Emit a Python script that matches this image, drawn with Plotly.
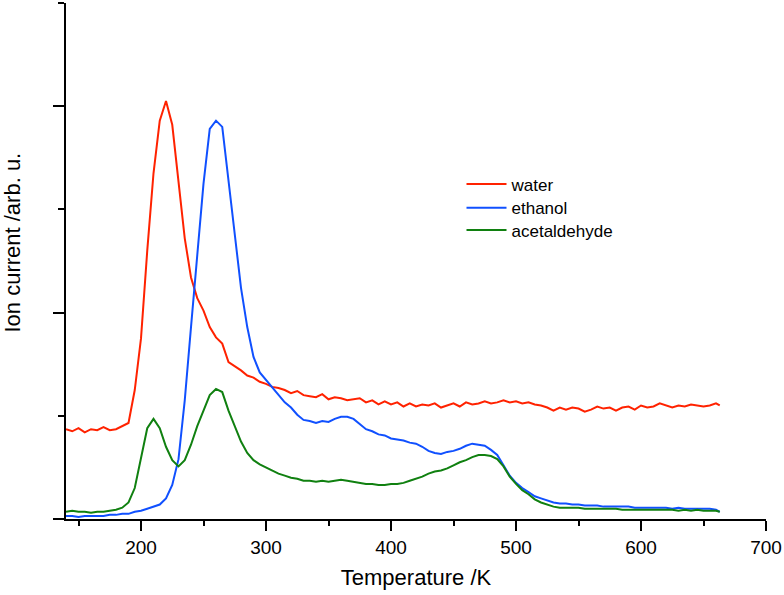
import plotly.graph_objects as go

# Temperature grid (K)
temperature = [140, 145, 150, 155, 160, 165, 170, 175, 180, 185, 190, 195, 200, 205, 210, 215, 220, 225, 230, 235,
               240, 245, 250, 255, 260, 265, 270, 275, 280, 285, 290, 295, 300, 305, 310, 315, 320, 325, 330, 335,
               340, 345, 350, 355, 360, 365, 370, 375, 380, 385, 390, 395, 400, 405, 410, 415, 420, 425, 430, 435,
               440, 445, 450, 455, 460, 465, 470, 475, 480, 485, 490, 495, 500, 505, 510, 515, 520, 525, 530, 535,
               540, 545, 550, 555, 560, 565, 570, 575, 580, 585, 590, 595, 600, 605, 610, 615, 620, 625, 630, 635,
               640, 645, 650, 655, 660, 663]

water = [0.87, 0.85, 0.88, 0.84, 0.87, 0.86, 0.89, 0.86, 0.87, 0.90, 0.93, 1.25, 1.75, 2.60, 3.35, 3.86, 4.05, 3.82, 3.30, 2.72,
         2.34, 2.14, 2.02, 1.86, 1.76, 1.70, 1.52, 1.48, 1.44, 1.39, 1.37, 1.33, 1.31, 1.28, 1.27, 1.25, 1.22, 1.24, 1.20, 1.19,
         1.18, 1.21, 1.16, 1.18, 1.17, 1.15, 1.16, 1.17, 1.13, 1.15, 1.11, 1.14, 1.11, 1.13, 1.09, 1.12, 1.09, 1.11, 1.10, 1.12,
         1.08, 1.10, 1.12, 1.09, 1.13, 1.11, 1.12, 1.14, 1.12, 1.13, 1.15, 1.13, 1.14, 1.12, 1.13, 1.11, 1.10, 1.08, 1.05, 1.08,
         1.06, 1.08, 1.07, 1.04, 1.06, 1.09, 1.07, 1.08, 1.05, 1.08, 1.09, 1.06, 1.10, 1.08, 1.09, 1.12, 1.10, 1.08, 1.10, 1.09,
         1.11, 1.10, 1.09, 1.10, 1.12, 1.10]

ethanol = [0.03, 0.03, 0.02, 0.03, 0.03, 0.03, 0.03, 0.04, 0.04, 0.05, 0.05, 0.07, 0.08, 0.10, 0.12, 0.14, 0.20, 0.33, 0.58, 1.15,
           1.86, 2.52, 3.25, 3.78, 3.86, 3.80, 3.28, 2.72, 2.24, 1.86, 1.57, 1.42, 1.35, 1.27, 1.20, 1.13, 1.08, 1.01, 0.96, 0.95,
           0.93, 0.95, 0.94, 0.97, 0.99, 0.99, 0.97, 0.92, 0.87, 0.85, 0.82, 0.81, 0.78, 0.77, 0.76, 0.74, 0.73, 0.70, 0.66, 0.64,
           0.63, 0.65, 0.66, 0.68, 0.71, 0.73, 0.72, 0.71, 0.67, 0.62, 0.52, 0.42, 0.35, 0.30, 0.26, 0.22, 0.20, 0.18, 0.16, 0.15,
           0.15, 0.14, 0.14, 0.13, 0.13, 0.13, 0.12, 0.12, 0.12, 0.12, 0.12, 0.11, 0.11, 0.11, 0.11, 0.11, 0.11, 0.10, 0.11, 0.10,
           0.10, 0.10, 0.10, 0.10, 0.09, 0.07]

acetaldehyde = [0.07, 0.08, 0.07, 0.07, 0.06, 0.07, 0.07, 0.08, 0.09, 0.11, 0.16, 0.30, 0.60, 0.88, 0.97, 0.88, 0.70, 0.57, 0.51, 0.57,
                0.72, 0.90, 1.05, 1.20, 1.26, 1.23, 1.05, 0.89, 0.75, 0.64, 0.57, 0.53, 0.50, 0.47, 0.44, 0.42, 0.40, 0.39, 0.37, 0.37,
                0.36, 0.37, 0.36, 0.37, 0.38, 0.37, 0.36, 0.35, 0.34, 0.34, 0.33, 0.33, 0.34, 0.34, 0.35, 0.37, 0.39, 0.41, 0.44, 0.46,
                0.47, 0.49, 0.52, 0.55, 0.57, 0.60, 0.62, 0.62, 0.61, 0.58, 0.51, 0.41, 0.34, 0.28, 0.24, 0.19, 0.16, 0.14, 0.12, 0.11,
                0.11, 0.11, 0.11, 0.10, 0.10, 0.10, 0.10, 0.10, 0.10, 0.09, 0.09, 0.09, 0.09, 0.09, 0.09, 0.09, 0.09, 0.09, 0.08, 0.09,
                0.08, 0.09, 0.08, 0.08, 0.08, 0.07]

series_names = ["water", "ethanol", "acetaldehyde"]
series_colors = ["#ff2200", "#1050ff", "#108010"]
series_values = [water, ethanol, acetaldehyde]

x_ticks = [200, 300, 400, 500, 600, 700]

FONT = "Liberation Sans, Arial, sans-serif"

legend_ids = ["legend", "legend2", "legend3"]
legend_y = [0.683, 0.637, 0.594]

fig = go.Figure()
for name, color, vals, lid in zip(series_names, series_colors, series_values, legend_ids):
    fig.add_trace(go.Scatter(x=temperature, y=vals, mode="lines", name=name,
                             line=dict(color=color, width=2), legend=lid))

legend_common = dict(x=0.565, xanchor="left", yanchor="top",
                     font=dict(size=17, family=FONT, color="black"),
                     bgcolor="rgba(0,0,0,0)", itemwidth=40)

fig.update_layout(
    width=784, height=595,
    margin=dict(l=66, r=18, t=3, b=76),
    plot_bgcolor="white", paper_bgcolor="white",
    font=dict(family=FONT, color="black", size=19),
    showlegend=True,
    legend=dict(y=legend_y[0], **legend_common),
    legend2=dict(y=legend_y[1], **legend_common),
    legend3=dict(y=legend_y[2], **legend_common),
)
fig.update_xaxes(
    range=[140, 700], tickvals=x_ticks, ticktext=[str(v) for v in x_ticks],
    showgrid=False, zeroline=False, showline=True, linecolor="black", linewidth=2,
    ticks="outside", ticklen=10, tickwidth=2, tickcolor="black",
    tickfont=dict(size=19, family=FONT),
    minor=dict(tickvals=[150, 250, 350, 450, 550, 650], ticks="outside", ticklen=5, tickwidth=2, tickcolor="black"),
    title=dict(text="Temperature /K", font=dict(size=22, family=FONT), standoff=13),
)
fig.update_yaxes(
    range=[0, 5], tickvals=[0, 2, 4], showticklabels=False,
    showgrid=False, zeroline=False, showline=True, linecolor="black", linewidth=2,
    ticks="outside", ticklen=11, tickwidth=2, tickcolor="black",
    minor=dict(tickvals=[1, 3, 5], ticks="outside", ticklen=6, tickwidth=2, tickcolor="black"),
)
fig.add_annotation(text="Ion current /arb. u.", xref="paper", yref="paper",
                   x=-0.077, y=0.536, textangle=-90, showarrow=False,
                   xanchor="center", yanchor="middle",
                   font=dict(size=22, family=FONT, color="black"))

fig.write_html("out.html", config={"displayModeBar": False},
               post_script="document.body.style.margin='0';document.body.style.padding='0';")
